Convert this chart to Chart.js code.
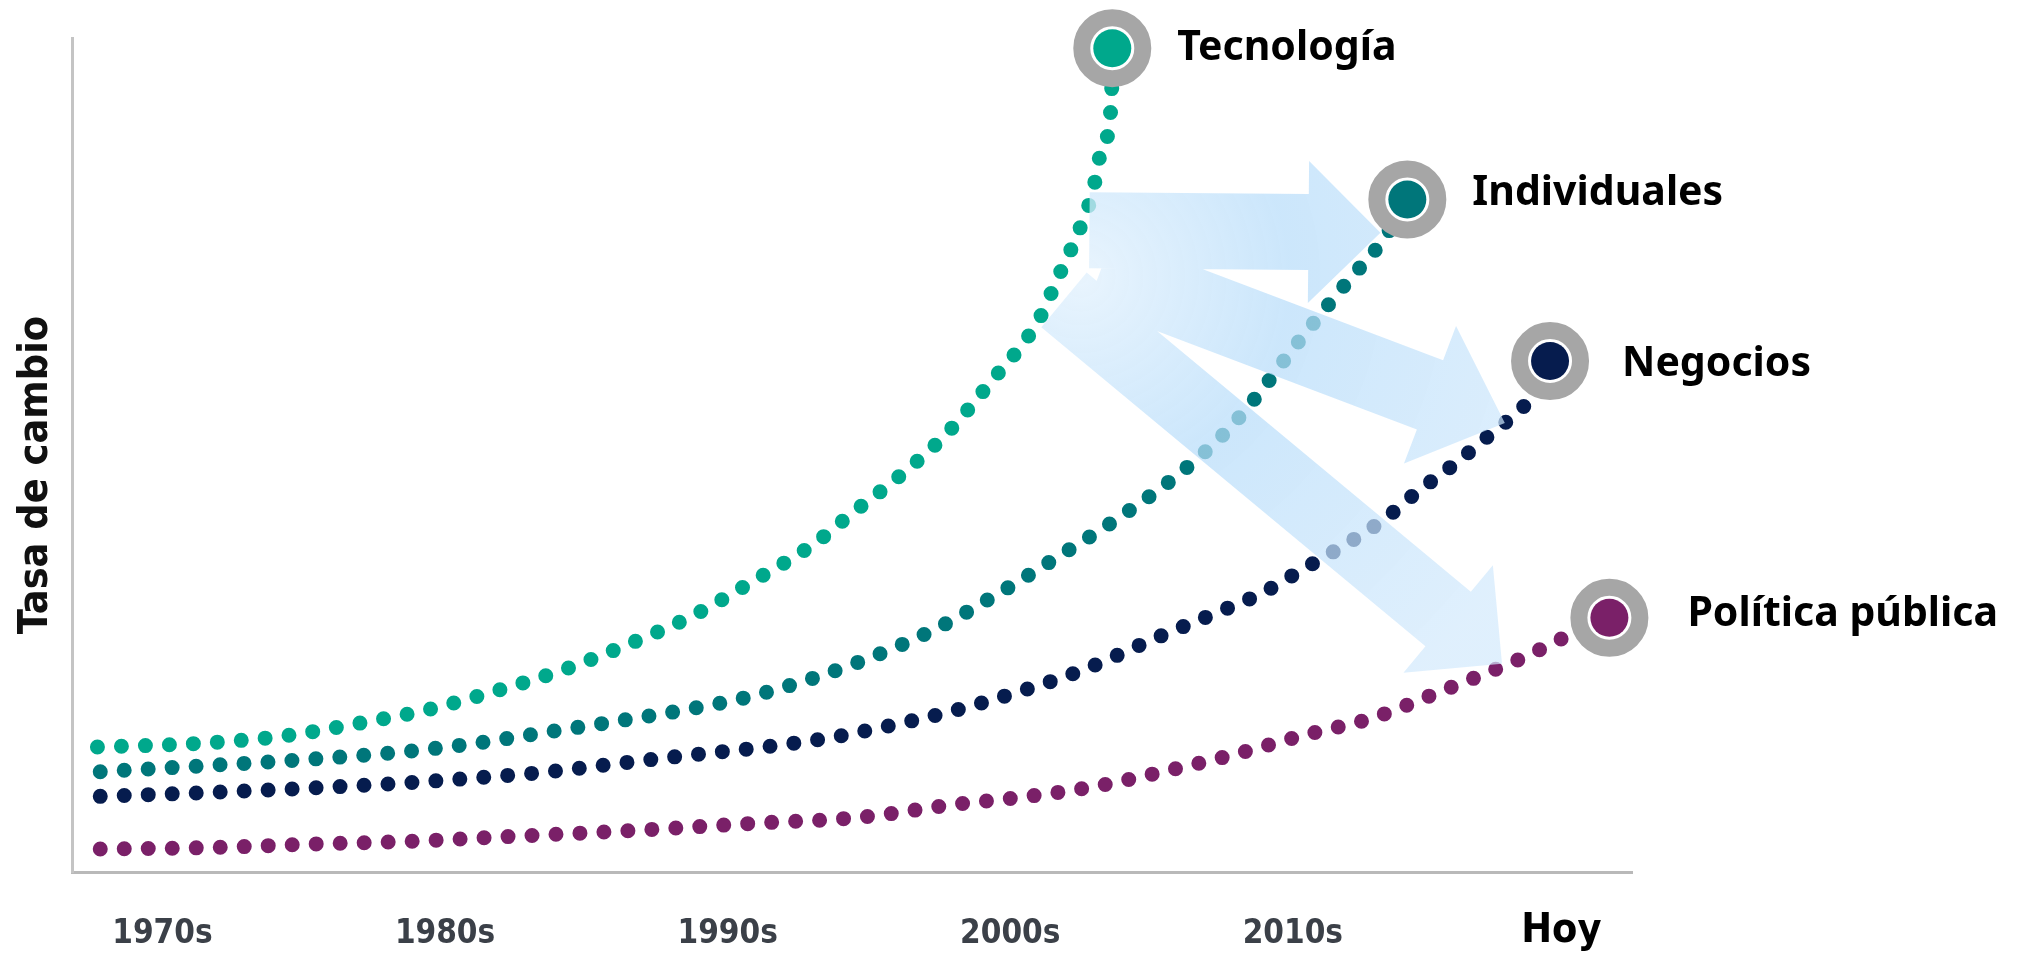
<!DOCTYPE html>
<html lang="es">
<head>
<meta charset="utf-8">
<title>Tasa de cambio</title>
<script src="https://cdn.jsdelivr.net/npm/chart.js@4.4.1/dist/chart.umd.min.js"></script>
<style>
  html, body { margin: 0; padding: 0; background: #fff; }
  #grafico { display: block; }
</style>
</head>
<body>
<canvas id="grafico" width="2029" height="954"></canvas>
<script>
// Eje X: décadas (en años) y sus etiquetas
const ticksAnios = [1970, 1980, 1990, 2000, 2010, 2019.5];
const ticksEtiquetas = ['1970s', '1980s', '1990s', '2000s', '2010s', 'Hoy'];

// Series. El último punto de cada una es el marcador final
const nombres = ['Tecnología', 'Individuales', 'Negocios', 'Política pública'];

const tecnologiaAnios = [1967.7, 1971.1, 1974.3, 1976.8, 1979.4, 1981.7, 1984.2, 1986.5, 1988.8, 1991.0,
  1993.1, 1994.4, 1995.8, 1997.7, 1999.3, 2001.0, 2001.7, 2002.3, 2002.91, 2003.26, 2003.58, 2003.61];
const tecnologiaValores = [14.7, 15.1, 16.0, 17.4, 19.1, 21.2, 23.8, 26.8, 30.2, 34.4,
  38.7, 42.2, 45.8, 51.4, 57.6, 64.9, 70.0, 74.4, 79.9, 85.3, 90.8, 96.9];

const individualesAnios = [1967.8, 1972.0, 1975.4, 1978.7, 1981.2, 1983.7, 1986.2, 1988.7, 1991.1, 1994.4,
  1997.3, 1999.6, 2001.7, 2003.9, 2006.0, 2007.7, 2008.9, 2009.9, 2011.9, 2013.2, 2014.05];
const individualesValores = [11.8, 12.6, 13.3, 14.2, 15.2, 16.5, 17.8, 19.2, 20.9, 24.4,
  28.5, 32.8, 37.1, 41.8, 46.9, 52.0, 56.7, 61.1, 69.3, 74.4, 79.1];

const negociosAnios = [1967.8, 1972.0, 1975.4, 1978.7, 1981.2, 1983.7, 1986.2, 1988.8, 1991.3, 1993.8,
  1995.3, 1997.8, 2000.2, 2002.6, 2005.0, 2007.3, 2008.9, 2010.3, 2011.7, 2013.2, 2014.4, 2015.8, 2017.1, 2018.3, 2019.1];
const negociosValores = [8.9, 9.4, 9.9, 10.5, 11.1, 11.8, 12.8, 13.8, 14.7, 15.9,
  16.9, 18.8, 21.1, 23.8, 27.3, 30.5, 32.8, 35.5, 38.2, 41.4, 44.7, 48.2, 51.8, 55.3, 60.1];

const politicaAnios = [1967.8, 1972.0, 1975.4, 1978.7, 1981.2, 1983.7, 1986.2, 1988.8, 1991.3, 1993.8,
  1995.4, 1997.9, 2000.4, 2002.9, 2005.4, 2007.9, 2010.4, 2012.8, 2015.2, 2016.7, 2018.2, 2019.8, 2021.2];
const politicaValores = [2.7, 2.9, 3.3, 3.6, 4.0, 4.4, 4.8, 5.3, 5.8, 6.2,
  6.7, 7.9, 8.8, 10.0, 11.8, 13.8, 16.1, 18.1, 21.2, 23.2, 25.3, 27.9, 29.9];

// Flechas decorativas (inicio y punta en unidades de los ejes)
const flechasInicio = [[2002.8, 75.5], [2003.2, 70.8], [2001.9, 67.3]];
const flechasPunta = [[2013.1, 75.2], [2017.5, 52.8], [2017.4, 24.5]];

const colores = ['#00a88c', '#00767a', '#061c4e', '#7a2068'];
const fuenteEstrecha = '"Liberation Sans Narrow", "DejaVu Sans Condensed", sans-serif';

const aniosSeries = [tecnologiaAnios, individualesAnios, negociosAnios, politicaAnios];
const valoresSeries = [tecnologiaValores, individualesValores, negociosValores, politicaValores];

const puntos = (anios, valores) => anios.map((a, i) => ({ x: a, y: valores[i] }));
const finales = aniosSeries.map((anios, s) => ({ x: anios[anios.length - 1], y: valoresSeries[s][anios.length - 1] }));

// Líneas punteadas: guiones de largo 0 con extremos redondos = puntos
const lineas = aniosSeries.map((anios, s) => ({
    label: nombres[s],
    data: puntos(anios, valoresSeries[s]),
    borderColor: colores[s],
    borderWidth: 15,
    borderDash: [0, 24],
    borderCapStyle: 'round',
    cubicInterpolationMode: 'monotone',
    tension: 0.4,
    pointRadius: 0,
    fill: false
}));

// Marcadores: anillo gris con halo blanco y centro de color
const centro = {
    label: 'centro',
    data: finales,
    showLine: false,
    pointRadius: 19,
    pointHoverRadius: 19,
    pointBackgroundColor: colores,
    pointBorderWidth: 0,
    clip: false
};
const anillo = {
    label: 'anillo',
    data: finales,
    showLine: false,
    pointRadius: 30.5,
    pointHoverRadius: 30.5,
    pointBackgroundColor: '#ffffff',
    pointBorderColor: '#a6a6a6',
    pointBorderWidth: 17,
    clip: false
};

function flecha(ctx, x0, y0, x1, y1, ancho, anchoPunta, largoPunta) {
    const largo = Math.hypot(x1 - x0, y1 - y0);
    const ux = (x1 - x0) / largo, uy = (y1 - y0) / largo;
    const nx = -uy, ny = ux;
    const bx = x1 - ux * largoPunta, by = y1 - uy * largoPunta;
    ctx.moveTo(x0 + nx * ancho / 2, y0 + ny * ancho / 2);
    ctx.lineTo(bx + nx * ancho / 2, by + ny * ancho / 2);
    ctx.lineTo(bx + nx * anchoPunta / 2, by + ny * anchoPunta / 2);
    ctx.lineTo(x1, y1);
    ctx.lineTo(bx - nx * anchoPunta / 2, by - ny * anchoPunta / 2);
    ctx.lineTo(bx - nx * ancho / 2, by - ny * ancho / 2);
    ctx.lineTo(x0 - nx * ancho / 2, y0 - ny * ancho / 2);
    ctx.closePath();
}

const decoracion = {
    id: 'decoracion',
    // flechas por encima de las líneas y por debajo de los marcadores
    afterDatasetDraw(chart, args) {
        if (args.index !== 2) return;
        const { ctx, scales: { x, y } } = chart;
        const anchos = [76, 74, 71], anchosPunta = [142, 147, 140], largosPunta = [72, 80, 70];
        const ox = x.getPixelForValue(2002.5), oy = y.getPixelForValue(70);
        const grad = ctx.createRadialGradient(ox, oy, 0, ox, oy, 520);
        grad.addColorStop(0, 'rgba(226,241,253,0.78)');
        grad.addColorStop(0.4, 'rgba(184,221,250,0.72)');
        grad.addColorStop(1, 'rgba(210,233,252,0.7)');
        ctx.save();
        ctx.beginPath();
        flechasInicio.forEach((ini, i) => {
            const fin = flechasPunta[i];
            flecha(ctx, x.getPixelForValue(ini[0]), y.getPixelForValue(ini[1]),
                x.getPixelForValue(fin[0]), y.getPixelForValue(fin[1]),
                anchos[i], anchosPunta[i], largosPunta[i]);
        });
        ctx.fillStyle = grad;
        ctx.fill('nonzero');
        ctx.restore();
    },
    afterDraw(chart) {
        const { ctx, chartArea } = chart;
        ctx.save();
        // título del eje Y
        ctx.translate(chartArea.left - 36, 475);
        ctx.rotate(-Math.PI / 2);
        ctx.font = 'bold 41px ' + fuenteEstrecha;
        ctx.fillStyle = '#111111';
        ctx.textAlign = 'center';
        ctx.textBaseline = 'middle';
        ctx.fillText('Tasa de cambio', 0, 0);
        ctx.restore();

        // etiquetas de cada serie junto a su marcador
        const desplazX = [65, 65, 72, 78], desplazY = [12, 5, 15, 8];
        ctx.save();
        ctx.font = 'bold 41px "Noto Sans", "Open Sans", sans-serif';
        ctx.fillStyle = '#000000';
        ctx.textAlign = 'left';
        ctx.textBaseline = 'alphabetic';
        chart.getDatasetMeta(0).data.forEach((p, i) => {
            ctx.fillText(nombres[i], p.x + desplazX[i], p.y + desplazY[i]);
        });
        ctx.restore();
    }
};

new Chart(document.getElementById('grafico'), {
    type: 'line',
    data: { datasets: [centro, anillo, ...lineas] },
    options: {
        responsive: false,
        animation: false,
        events: [],
        layout: { autoPadding: false, padding: { left: 72, top: 38, right: 397, bottom: 0 } },
        plugins: { legend: { display: false }, tooltip: { enabled: false } },
        scales: {
            x: {
                type: 'linear',
                min: 1966.8,
                max: 2022,
                afterBuildTicks: s => { s.ticks = ticksAnios.map(v => ({ value: v })); },
                // la franja de etiquetas ocupa 82 px bajo el eje
                afterFit: s => { s.height = 82; },
                grid: { display: false, drawTicks: false },
                border: { display: true, color: '#b9b9b9', width: 3 },
                ticks: {
                    autoSkip: false,
                    maxRotation: 0,
                    padding: 42.8,
                    callback: (v, i) => ticksEtiquetas[i],
                    color: c => c.index === 5 ? '#000000' : '#3b4048',
                    font: c => c.index === 5
                        ? { family: fuenteEstrecha, size: 41, weight: 'bold', lineHeight: 0.83 }
                        : { family: fuenteEstrecha, size: 33, weight: 'bold', lineHeight: 1.2 }
                }
            },
            y: {
                min: 0,
                max: 98.1,
                grid: { display: false, drawTicks: false },
                border: { display: true, color: '#c4c4c4', width: 3 },
                ticks: { display: false }
            }
        }
    },
    plugins: [decoracion]
});
</script>
</body>
</html>
